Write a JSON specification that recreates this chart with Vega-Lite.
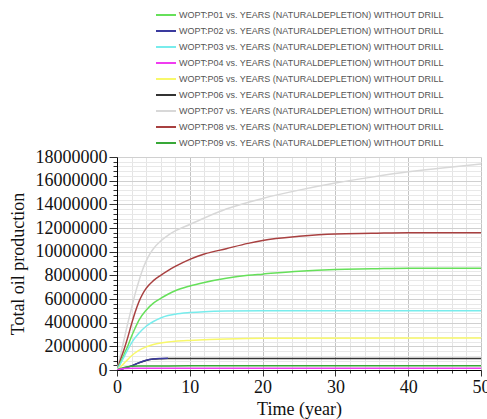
{
  "$schema": "https://vega.github.io/schema/vega-lite/v6.json",
  "autosize": {"type": "none"},
  "width": 364,
  "height": 213,
  "padding": {"left": 117, "top": 157, "right": 6, "bottom": 49},
  "background": "white",
  "config": {
    "view": {"stroke": null},
    "font": "Liberation Serif"
  },
  "datasets": {
    "curves": [
      {"well": "P07", "t": 0, "v": 0}, {"well": "P07", "t": 0.5, "v": 1300000}, {"well": "P07", "t": 1, "v": 2650000}, {"well": "P07", "t": 1.5, "v": 4000000}, {"well": "P07", "t": 2, "v": 5250000}, {"well": "P07", "t": 2.5, "v": 6450000}, {"well": "P07", "t": 3, "v": 7500000}, {"well": "P07", "t": 3.5, "v": 8450000}, {"well": "P07", "t": 4, "v": 9200000}, {"well": "P07", "t": 4.5, "v": 9800000}, {"well": "P07", "t": 5, "v": 10250000}, {"well": "P07", "t": 6, "v": 10900000}, {"well": "P07", "t": 7, "v": 11380000}, {"well": "P07", "t": 8, "v": 11750000}, {"well": "P07", "t": 10, "v": 12300000}, {"well": "P07", "t": 12, "v": 12850000}, {"well": "P07", "t": 15, "v": 13600000}, {"well": "P07", "t": 20, "v": 14500000}, {"well": "P07", "t": 25, "v": 15200000}, {"well": "P07", "t": 30, "v": 15800000}, {"well": "P07", "t": 35, "v": 16300000}, {"well": "P07", "t": 40, "v": 16750000}, {"well": "P07", "t": 45, "v": 17100000}, {"well": "P07", "t": 50, "v": 17400000},
      {"well": "P08", "t": 0, "v": 0}, {"well": "P08", "t": 0.5, "v": 900000}, {"well": "P08", "t": 1, "v": 1800000}, {"well": "P08", "t": 1.5, "v": 2800000}, {"well": "P08", "t": 2, "v": 3900000}, {"well": "P08", "t": 2.5, "v": 4900000}, {"well": "P08", "t": 3, "v": 5750000}, {"well": "P08", "t": 3.5, "v": 6400000}, {"well": "P08", "t": 4, "v": 6900000}, {"well": "P08", "t": 5, "v": 7550000}, {"well": "P08", "t": 6, "v": 8000000}, {"well": "P08", "t": 7, "v": 8400000}, {"well": "P08", "t": 8, "v": 8750000}, {"well": "P08", "t": 10, "v": 9350000}, {"well": "P08", "t": 12, "v": 9800000}, {"well": "P08", "t": 15, "v": 10250000}, {"well": "P08", "t": 18, "v": 10700000}, {"well": "P08", "t": 20, "v": 10950000}, {"well": "P08", "t": 25, "v": 11300000}, {"well": "P08", "t": 30, "v": 11500000}, {"well": "P08", "t": 35, "v": 11550000}, {"well": "P08", "t": 40, "v": 11600000}, {"well": "P08", "t": 50, "v": 11600000},
      {"well": "P01", "t": 0, "v": 0}, {"well": "P01", "t": 0.5, "v": 650000}, {"well": "P01", "t": 1, "v": 1350000}, {"well": "P01", "t": 1.5, "v": 2050000}, {"well": "P01", "t": 2, "v": 2850000}, {"well": "P01", "t": 2.5, "v": 3550000}, {"well": "P01", "t": 3, "v": 4200000}, {"well": "P01", "t": 4, "v": 5050000}, {"well": "P01", "t": 5, "v": 5650000}, {"well": "P01", "t": 6, "v": 6050000}, {"well": "P01", "t": 7, "v": 6400000}, {"well": "P01", "t": 8, "v": 6700000}, {"well": "P01", "t": 10, "v": 7100000}, {"well": "P01", "t": 12, "v": 7400000}, {"well": "P01", "t": 15, "v": 7750000}, {"well": "P01", "t": 18, "v": 8000000}, {"well": "P01", "t": 20, "v": 8100000}, {"well": "P01", "t": 25, "v": 8350000}, {"well": "P01", "t": 30, "v": 8500000}, {"well": "P01", "t": 35, "v": 8550000}, {"well": "P01", "t": 40, "v": 8600000}, {"well": "P01", "t": 50, "v": 8600000},
      {"well": "P03", "t": 0, "v": 0}, {"well": "P03", "t": 0.5, "v": 550000}, {"well": "P03", "t": 1, "v": 1150000}, {"well": "P03", "t": 1.5, "v": 1750000}, {"well": "P03", "t": 2, "v": 2300000}, {"well": "P03", "t": 3, "v": 3100000}, {"well": "P03", "t": 4, "v": 3700000}, {"well": "P03", "t": 5, "v": 4100000}, {"well": "P03", "t": 6, "v": 4400000}, {"well": "P03", "t": 7, "v": 4600000}, {"well": "P03", "t": 8, "v": 4720000}, {"well": "P03", "t": 10, "v": 4850000}, {"well": "P03", "t": 12, "v": 4930000}, {"well": "P03", "t": 15, "v": 4980000}, {"well": "P03", "t": 20, "v": 5000000}, {"well": "P03", "t": 50, "v": 5000000},
      {"well": "P05", "t": 0, "v": 0}, {"well": "P05", "t": 0.5, "v": 280000}, {"well": "P05", "t": 1, "v": 580000}, {"well": "P05", "t": 1.5, "v": 900000}, {"well": "P05", "t": 2, "v": 1200000}, {"well": "P05", "t": 3, "v": 1650000}, {"well": "P05", "t": 4, "v": 1950000}, {"well": "P05", "t": 5, "v": 2150000}, {"well": "P05", "t": 6, "v": 2280000}, {"well": "P05", "t": 7, "v": 2370000}, {"well": "P05", "t": 8, "v": 2430000}, {"well": "P05", "t": 10, "v": 2500000}, {"well": "P05", "t": 12, "v": 2550000}, {"well": "P05", "t": 15, "v": 2620000}, {"well": "P05", "t": 20, "v": 2680000}, {"well": "P05", "t": 50, "v": 2700000},
      {"well": "P06", "t": 0, "v": 0}, {"well": "P06", "t": 1, "v": 150000}, {"well": "P06", "t": 2, "v": 350000}, {"well": "P06", "t": 3, "v": 600000}, {"well": "P06", "t": 4, "v": 800000}, {"well": "P06", "t": 5, "v": 920000}, {"well": "P06", "t": 6, "v": 960000}, {"well": "P06", "t": 7, "v": 980000}, {"well": "P06", "t": 10, "v": 980000}, {"well": "P06", "t": 50, "v": 980000},
      {"well": "P02", "t": 0, "v": 0}, {"well": "P02", "t": 1, "v": 150000}, {"well": "P02", "t": 2, "v": 350000}, {"well": "P02", "t": 3, "v": 600000}, {"well": "P02", "t": 4, "v": 820000}, {"well": "P02", "t": 5, "v": 930000}, {"well": "P02", "t": 6, "v": 970000}, {"well": "P02", "t": 7, "v": 990000},
      {"well": "P09", "t": 0, "v": 0}, {"well": "P09", "t": 0.5, "v": 120000}, {"well": "P09", "t": 1, "v": 220000}, {"well": "P09", "t": 1.5, "v": 280000}, {"well": "P09", "t": 2, "v": 310000}, {"well": "P09", "t": 3, "v": 330000}, {"well": "P09", "t": 5, "v": 340000}, {"well": "P09", "t": 10, "v": 350000}, {"well": "P09", "t": 50, "v": 350000},
      {"well": "P04", "t": 0, "v": 0}, {"well": "P04", "t": 0.5, "v": 80000}, {"well": "P04", "t": 1, "v": 120000}, {"well": "P04", "t": 2, "v": 140000}, {"well": "P04", "t": 5, "v": 150000}, {"well": "P04", "t": 50, "v": 150000}
    ]
  },
  "data": {"name": "curves"},
  "mark": {"type": "line", "strokeWidth": 1.5, "interpolate": "monotone", "clip": true},
  "encoding": {
    "x": {
      "field": "t", "type": "quantitative",
      "scale": {"domain": [0, 50], "nice": false, "zero": true},
      "axis": {
        "title": "Time (year)",
        "titleFont": "Liberation Serif", "titleFontSize": 18, "titleFontWeight": "normal", "titleColor": "#111", "titlePadding": 4,
        "values": [0, 2, 4, 6, 8, 10, 12, 14, 16, 18, 20, 22, 24, 26, 28, 30, 32, 34, 36, 38, 40, 42, 44, 46, 48, 50],
        "labelExpr": "datum.value % 10 === 0 ? datum.label : ''",
        "labelFont": "Liberation Serif", "labelFontSize": 18, "labelColor": "#111", "labelPadding": 2, "labelFlush": false, "labelOverlap": false,
        "domainColor": "#000", "domainWidth": 1,
        "tickColor": "#333",
        "tickSize": {"condition": {"test": "datum.value % 10 === 0", "value": 6}, "value": 3},
        "grid": true,
        "gridColor": {"condition": {"test": "datum.value % 10 === 0", "value": "#c4c4c4"}, "value": "#e4e4e4"},
        "gridWidth": 1
      }
    },
    "y": {
      "field": "v", "type": "quantitative",
      "scale": {"domain": [0, 18000000], "nice": false},
      "axis": {
        "title": "Total oil production",
        "titleFont": "Liberation Serif", "titleFontSize": 18, "titleFontWeight": "normal", "titleColor": "#111", "titlePadding": 8,
        "values": [0,400000,800000,1200000,1600000,2000000,2400000,2800000,3200000,3600000,4000000,4400000,4800000,5200000,5600000,6000000,6400000,6800000,7200000,7600000,8000000,8400000,8800000,9200000,9600000,10000000,10400000,10800000,11200000,11600000,12000000,12400000,12800000,13200000,13600000,14000000,14400000,14800000,15200000,15600000,16000000,16400000,16800000,17200000,17600000,18000000],
        "format": "d",
        "labelExpr": "datum.value % 2000000 === 0 ? datum.label : ''",
        "labelFont": "Liberation Serif", "labelFontSize": 18, "labelColor": "#111", "labelPadding": 2, "labelFlush": false, "labelOverlap": false,
        "domainColor": "#000", "domainWidth": 1,
        "tickColor": "#333",
        "tickSize": {"condition": {"test": "datum.value % 2000000 === 0", "value": 8}, "value": 4},
        "grid": true,
        "gridColor": {"condition": {"test": "datum.value % 2000000 === 0", "value": "#d0d0d0"}, "value": "#e8e8e8"},
        "gridWidth": 1
      }
    },
    "color": {
      "field": "well", "type": "nominal",
      "scale": {
        "domain": ["P01", "P02", "P03", "P04", "P05", "P06", "P07", "P08", "P09"],
        "range": ["#66e05a", "#3a3a9e", "#78ecec", "#f03cf0", "#f8f86a", "#333333", "#d8d8d8", "#a84040", "#38a838"]
      },
      "legend": {
        "orient": "none",
        "legendX": 38,
        "legendY": -153,
        "title": null,
        "symbolType": "stroke",
        "symbolSize": 400,
        "symbolStrokeWidth": 2,
        "labelExpr": "'WOPT:' + datum.label + ' vs. YEARS (NATURALDEPLETION) WITHOUT DRILL'",
        "labelFont": "Liberation Sans",
        "labelFontSize": 9,
        "labelColor": "#555",
        "labelOffset": 2,
        "labelLimit": 400,
        "rowPadding": -0.4,
        "padding": 0
      }
    }
  }
}
